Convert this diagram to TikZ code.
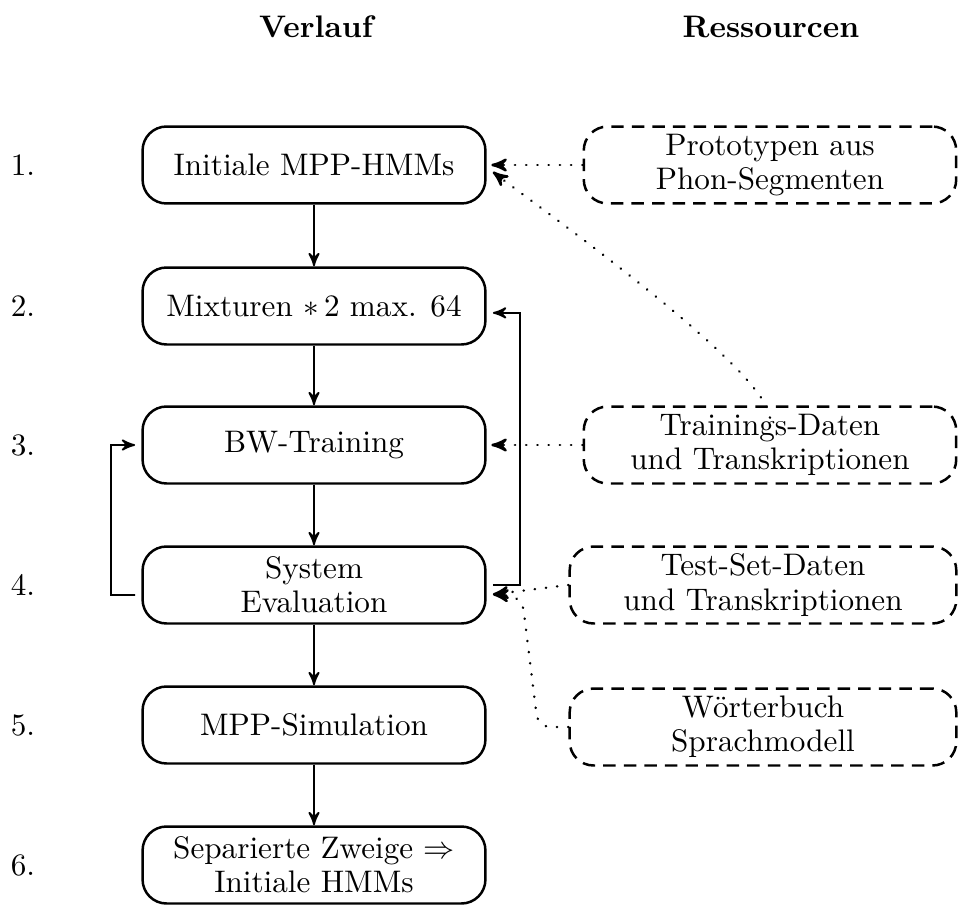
\documentclass[tikz,border=0pt]{standalone}
\usepackage{tikz}
\usetikzlibrary{shapes.geometric, arrows, positioning}

\begin{document}
\begin{tikzpicture}[
    x=0.01127cm, y=-0.01127cm,
    stepbox/.style={draw=black, thick, rounded corners=0.27cm, align=center,
        minimum width=3.866cm, minimum height=0.868cm, inner sep=2pt,
        font={\fontsize{10}{11}\selectfont}},
    resbox/.style={stepbox, dash pattern=on 4pt off 2.6pt, minimum width=4.2cm},
    title/.style={font=\bfseries},
    flow/.style={-stealth', semithick},
    uses/.style={-stealth', thick, dash pattern=on 0.1pt off 3.5pt, line cap=round}
]
\useasboundingbox (0,0) rectangle (958,904);

% Headers
\node[title] (hverl) at (316,27) {Verlauf};
\node[title] (hress) at (771,27) {Ressourcen};

% Steps
\node[stepbox] (init) at (314,165) {Initiale MPP-HMMs};
\node[stepbox] (mix)  at (314,306) {Mixturen $*\,2$ max. 64};
\node[stepbox] (bw)   at (314,445) {BW-Training};
\node[stepbox] (eval) at (314,585) {System\\Evaluation};
\node[stepbox] (sim)  at (314,725) {MPP-Simulation};
\node[stepbox] (sep)  at (314,865) {Separierte Zweige $\Rightarrow$\\Initiale HMMs};

% Numbers
\foreach \n/\y in {1/165, 2/306, 3/445, 4/585, 5/725, 6/865}
    \node (num\n) at (23,\y) {\n.};

% Resources
\node[resbox] (proto) at (770,165) {Prototypen aus\\Phon-Segmenten};
\node[resbox] (train) at (770,445) {Trainings-Daten\\und Transkriptionen};
\node[resbox, minimum width=4.36cm] (test)  at (763,585) {Test-Set-Daten\\und Transkriptionen};
\node[resbox, minimum width=4.36cm] (woert) at (763,727) {W\"orterbuch\\Sprachmodell};

% Flow
\draw[flow] (init) -- (mix);
\draw[flow] (mix) -- (bw);
\draw[flow] (bw) -- (eval);
\draw[flow] (eval) -- (sim);
\draw[flow] (sim) -- (sep);

% Loops
\coordinate (rloop) at (520,585);
\coordinate (lloop) at (111,595);
\draw[flow] ([xshift=2pt]eval.east) -- (rloop) |- ([xshift=2pt,yshift=-2.2pt]mix.east);
\draw[flow] ([xshift=-2pt,yshift=-3.2pt]eval.west) -- (lloop) |- ([xshift=-2pt]bw.west);

% Resources used
\coordinate (wbend) at (538,727);
\coordinate (wtop)  at (522,597);
\draw[uses] (proto.west) -- ([xshift=1.5pt]init.east);
\draw[uses] ([yshift=-4pt]train.north) to[out=95, in=-38, looseness=0.35] ([xshift=2pt,yshift=-2.2pt]init.east);
\draw[uses] (train.west) -- ([xshift=1.5pt]bw.east);
\draw[uses] (test.west) -- ([xshift=2pt,yshift=-3pt]eval.east);
\draw[uses, rounded corners=4pt] (woert.west) -- (wbend) -- (wtop) -- ([xshift=2pt,yshift=-3pt]eval.east);
\end{tikzpicture}
\end{document}
